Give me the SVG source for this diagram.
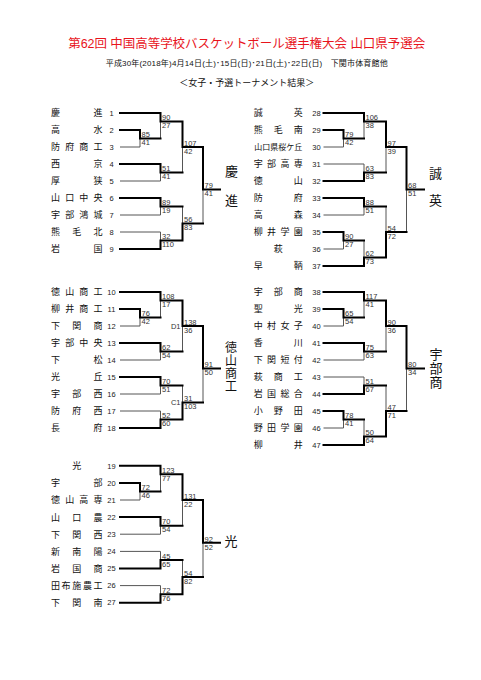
<svg xmlns="http://www.w3.org/2000/svg" width="481" height="680" viewBox="0 0 481 680">
<style>
text{font-family:"Liberation Sans","Noto Sans CJK JP",sans-serif;}
.nm{font-size:9px;fill:#111;text-anchor:middle;}
.nm6{font-size:8px;fill:#111;text-anchor:middle;}
.no{font-size:7.5px;fill:#222;text-anchor:middle;}
.sc{font-size:7.5px;fill:#333;}
.lb{font-size:7.5px;fill:#333;text-anchor:end;}
.win{font-size:13px;fill:#111;text-anchor:middle;}
.win4{font-size:12px;fill:#111;text-anchor:middle;}
.k{fill:none;stroke:#000;stroke-width:2;stroke-linecap:square;stroke-linejoin:miter;}
.t{fill:none;stroke:#555;stroke-width:1;}
</style>
<rect width="481" height="680" fill="#fff"/>
<g id="header">
<text x="246.7" y="48" font-size="12.5" fill="#e8141c" text-anchor="middle" textLength="357" lengthAdjust="spacing">第62回 中国高等学校バスケットボール選手権大会 山口県予選会</text>
<text x="246.7" y="65.6" font-size="8" fill="#111" text-anchor="middle" textLength="282" lengthAdjust="spacing">平成30年(2018年)4月14日(土)･15日(日)･21日(土)･22日(日)　下関市体育館他</text>
<text x="246.7" y="86" font-size="9" fill="#111" text-anchor="middle">＜女子・予選トーナメント結果＞</text>
</g>
<g id="connectors">
<g id="block1">
<path class="t" d="M120 147H140V138.5M160.5 121.5V138.5M120 181H160.5V172.5M182.5 147V172.5M120 215H160.5V206.5M120 232H160.5V240.5M182.5 206.5V223.5M203 189.5V223.5"/>
<path class="k" d="M120 130H140V138.5H160.5M120 113H160.5V121.5H182.5M120 164H160.5V172.5H182.5M182.5 121.5V147H203M120 198H160.5V206.5H182.5M120 249H160.5V240.5H182.5M182.5 240.5V223.5H203M203 147V189.5H220"/>
</g>
<g id="block2">
<path class="t" d="M120 326H140V317.5M160.5 300.5V317.5M120 360H160.5V351.5M182.5 326V351.5M120 394H160.5V385.5M120 411H160.5V419.5M182.5 385.5V402.5M203 368.5V402.5"/>
<path class="k" d="M120 309H140V317.5H160.5M120 292H160.5V300.5H182.5M120 343H160.5V351.5H182.5M182.5 300.5V326H203M120 377H160.5V385.5H182.5M120 428H160.5V419.5H182.5M182.5 419.5V402.5H203M203 326V368.5H220"/>
</g>
<g id="block3">
<path class="t" d="M120 500H140V491.45M160.5 474.35V491.45M120 534.2H160.5V525.65M182.5 500V525.65M120 551.4H160.5V559.95M120 585.6H160.5V594.15M182.5 559.95V577.05M203 542.8V577.05"/>
<path class="k" d="M120 482.9H140V491.45H160.5M120 465.8H160.5V474.35H182.5M120 517.1H160.5V525.65H182.5M182.5 474.35V500H203M120 568.5H160.5V559.95H182.5M120 602.7H160.5V594.15H182.5M182.5 594.15V577.05H203M203 500V542.8H220"/>
</g>
<g id="block4">
<path class="t" d="M323.5 147H343.5V138.5M364 121.5V138.5M323.5 164H364V172.5M386 147V172.5M323.5 215H364V206.5M323.5 249H343.5V240.5M364 240.5V257.5M386 206.5V232M406.5 189.5V232"/>
<path class="k" d="M323.5 130H343.5V138.5H364M323.5 113H364V121.5H386M323.5 181H364V172.5H386M386 121.5V147H406.5M323.5 198H364V206.5H386M323.5 232H343.5V240.5H364M323.5 266H364V257.5H386M386 257.5V232H406.5M406.5 147V189.5H424"/>
</g>
<g id="block5">
<path class="t" d="M323.5 326H343.5V317.5M364 300.5V317.5M323.5 360H364V351.5M386 326V351.5M323.5 377H364V385.5M323.5 428H343.5V419.5M364 419.5V436.5M386 385.5V411M406.5 368.5V411"/>
<path class="k" d="M323.5 309H343.5V317.5H364M323.5 292H364V300.5H386M323.5 343H364V351.5H386M386 300.5V326H406.5M323.5 394H364V385.5H386M323.5 411H343.5V419.5H364M323.5 445H364V436.5H386M386 436.5V411H406.5M406.5 326V368.5H424"/>
</g>
<g id="scores">
<text class="sc" x="141.5" y="137.3">85</text><text class="sc" x="141.5" y="145.3">41</text>
<text class="sc" x="162" y="120.3">90</text><text class="sc" x="162" y="128.3">27</text>
<text class="sc" x="162" y="171.3">51</text><text class="sc" x="162" y="179.3">41</text>
<text class="sc" x="184" y="145.8">107</text><text class="sc" x="184" y="153.8">42</text>
<text class="sc" x="162" y="205.3">89</text><text class="sc" x="162" y="213.3">19</text>
<text class="sc" x="162" y="239.3">32</text><text class="sc" x="162" y="247.3">110</text>
<text class="sc" x="184" y="222.3">56</text><text class="sc" x="184" y="230.3">83</text>
<text class="sc" x="204.5" y="188.3">79</text><text class="sc" x="204.5" y="196.3">41</text>

<text class="sc" x="141.5" y="316.3">76</text><text class="sc" x="141.5" y="324.3">42</text>
<text class="sc" x="162" y="299.3">108</text><text class="sc" x="162" y="307.3">17</text>
<text class="sc" x="162" y="350.3">62</text><text class="sc" x="162" y="358.3">54</text>
<text class="sc" x="184" y="324.8">138</text><text class="sc" x="184" y="332.8">36</text>
<text class="lb" x="180.5" y="328.7">D1</text>
<text class="sc" x="162" y="384.3">70</text><text class="sc" x="162" y="392.3">51</text>
<text class="sc" x="162" y="418.3">52</text><text class="sc" x="162" y="426.3">60</text>
<text class="sc" x="184" y="401.3">31</text><text class="sc" x="184" y="409.3">103</text>
<text class="lb" x="180.5" y="405.2">C1</text>
<text class="sc" x="204.5" y="367.3">91</text><text class="sc" x="204.5" y="375.3">50</text>

<text class="sc" x="141.5" y="490.25">72</text><text class="sc" x="141.5" y="498.25">46</text>
<text class="sc" x="162" y="473.15">123</text><text class="sc" x="162" y="481.15">77</text>
<text class="sc" x="162" y="524.45">70</text><text class="sc" x="162" y="532.45">54</text>
<text class="sc" x="184" y="498.8">131</text><text class="sc" x="184" y="506.8">22</text>
<text class="sc" x="162" y="558.75">45</text><text class="sc" x="162" y="566.75">65</text>
<text class="sc" x="162" y="592.95">72</text><text class="sc" x="162" y="600.95">76</text>
<text class="sc" x="184" y="575.85">54</text><text class="sc" x="184" y="583.85">82</text>
<text class="sc" x="204.5" y="541.6">92</text><text class="sc" x="204.5" y="549.6">52</text>

<text class="sc" x="345" y="137.3">79</text><text class="sc" x="345" y="145.3">42</text>
<text class="sc" x="365.5" y="120.3">106</text><text class="sc" x="365.5" y="128.3">38</text>
<text class="sc" x="365.5" y="171.3">63</text><text class="sc" x="365.5" y="179.3">83</text>
<text class="sc" x="387.5" y="145.8">97</text><text class="sc" x="387.5" y="153.8">39</text>
<text class="sc" x="365.5" y="205.3">88</text><text class="sc" x="365.5" y="213.3">51</text>
<text class="sc" x="345" y="239.3">90</text><text class="sc" x="345" y="247.3">27</text>
<text class="sc" x="365.5" y="256.3">62</text><text class="sc" x="365.5" y="264.3">73</text>
<text class="sc" x="387.5" y="230.8">54</text><text class="sc" x="387.5" y="238.8">72</text>
<text class="sc" x="408" y="188.3">68</text><text class="sc" x="408" y="196.3">51</text>

<text class="sc" x="345" y="316.3">65</text><text class="sc" x="345" y="324.3">54</text>
<text class="sc" x="365.5" y="299.3">117</text><text class="sc" x="365.5" y="307.3">41</text>
<text class="sc" x="365.5" y="350.3">75</text><text class="sc" x="365.5" y="358.3">63</text>
<text class="sc" x="387.5" y="324.8">90</text><text class="sc" x="387.5" y="332.8">36</text>
<text class="sc" x="365.5" y="384.3">51</text><text class="sc" x="365.5" y="392.3">67</text>
<text class="sc" x="345" y="418.3">78</text><text class="sc" x="345" y="426.3">41</text>
<text class="sc" x="365.5" y="435.3">50</text><text class="sc" x="365.5" y="443.3">64</text>
<text class="sc" x="387.5" y="409.8">47</text><text class="sc" x="387.5" y="417.8">71</text>
<text class="sc" x="408" y="367.3">80</text><text class="sc" x="408" y="375.3">34</text>
</g>
</g>
<g id="teams">
<g id="t1"><text class="nm" x="55.5 98" y="116.4">慶進</text><text class="no" x="111.5" y="115.7">1</text></g>
<g id="t2"><text class="nm" x="55.5 98" y="133.4">高水</text><text class="no" x="111.5" y="132.7">2</text></g>
<g id="t3"><text class="nm" x="55.5 69.7 83.8 98" y="150.4">防府商工</text><text class="no" x="111.5" y="149.7">3</text></g>
<g id="t4"><text class="nm" x="55.5 98" y="167.4">西京</text><text class="no" x="111.5" y="166.7">4</text></g>
<g id="t5"><text class="nm" x="55.5 98" y="184.4">厚狭</text><text class="no" x="111.5" y="183.7">5</text></g>
<g id="t6"><text class="nm" x="55.5 69.7 83.8 98" y="201.4">山口中央</text><text class="no" x="111.5" y="200.7">6</text></g>
<g id="t7"><text class="nm" x="55.5 69.7 83.8 98" y="218.4">宇部鴻城</text><text class="no" x="111.5" y="217.7">7</text></g>
<g id="t8"><text class="nm" x="55.5 76.75 98" y="235.4">熊毛北</text><text class="no" x="111.5" y="234.7">8</text></g>
<g id="t9"><text class="nm" x="55.5 98" y="252.4">岩国</text><text class="no" x="111.5" y="251.7">9</text></g>

<g id="t10"><text class="nm" x="55.5 69.7 83.8 98" y="295.4">徳山商工</text><text class="no" x="111.5" y="294.7">10</text></g>
<g id="t11"><text class="nm" x="55.5 69.7 83.8 98" y="312.4">柳井商工</text><text class="no" x="111.5" y="311.7">11</text></g>
<g id="t12"><text class="nm" x="55.5 76.75 98" y="329.4">下関商</text><text class="no" x="111.5" y="328.7">12</text></g>
<g id="t13"><text class="nm" x="55.5 69.7 83.8 98" y="346.4">宇部中央</text><text class="no" x="111.5" y="345.7">13</text></g>
<g id="t14"><text class="nm" x="55.5 98" y="363.4">下松</text><text class="no" x="111.5" y="362.7">14</text></g>
<g id="t15"><text class="nm" x="55.5 98" y="380.4">光丘</text><text class="no" x="111.5" y="379.7">15</text></g>
<g id="t16"><text class="nm" x="55.5 76.75 98" y="397.4">宇部西</text><text class="no" x="111.5" y="396.7">16</text></g>
<g id="t17"><text class="nm" x="55.5 76.75 98" y="414.4">防府西</text><text class="no" x="111.5" y="413.7">17</text></g>
<g id="t18"><text class="nm" x="55.5 98" y="431.4">長府</text><text class="no" x="111.5" y="430.7">18</text></g>

<g id="t19"><text class="nm" x="76.75" y="469.2">光</text><text class="no" x="111.5" y="468.5">19</text></g>
<g id="t20"><text class="nm" x="55.5 98" y="486.3">宇部</text><text class="no" x="111.5" y="485.6">20</text></g>
<g id="t21"><text class="nm" x="55.5 69.7 83.8 98" y="503.4">徳山高専</text><text class="no" x="111.5" y="502.7">21</text></g>
<g id="t22"><text class="nm" x="55.5 76.75 98" y="520.5">山口農</text><text class="no" x="111.5" y="519.8">22</text></g>
<g id="t23"><text class="nm" x="55.5 76.75 98" y="537.6">下関西</text><text class="no" x="111.5" y="536.9">23</text></g>
<g id="t24"><text class="nm" x="55.5 76.75 98" y="554.8">新南陽</text><text class="no" x="111.5" y="554.1">24</text></g>
<g id="t25"><text class="nm" x="55.5 76.75 98" y="571.9">岩国商</text><text class="no" x="111.5" y="571.2">25</text></g>
<g id="t26"><text class="nm" x="55.5 66.1 76.75 87.4 98" y="589">田布施農工</text><text class="no" x="111.5" y="588.3">26</text></g>
<g id="t27"><text class="nm" x="55.5 76.75 98" y="606.1">下関南</text><text class="no" x="111.5" y="605.4">27</text></g>

<g id="t28"><text class="nm" x="258.3 298.3" y="116.4">誠英</text><text class="no" x="316.5" y="115.7">28</text></g>
<g id="t29"><text class="nm" x="258.3 278.3 298.3" y="133.4">熊毛南</text><text class="no" x="316.5" y="132.7">29</text></g>
<g id="t30"><text class="nm6" x="258.3 266.3 274.3 282.3 290.3 298.3" y="150.1">山口県桜ケ丘</text><text class="no" x="316.5" y="149.7">30</text></g>
<g id="t31"><text class="nm" x="258.3 271.6 285 298.3" y="167.4">宇部高専</text><text class="no" x="316.5" y="166.7">31</text></g>
<g id="t32"><text class="nm" x="258.3 298.3" y="184.4">徳山</text><text class="no" x="316.5" y="183.7">32</text></g>
<g id="t33"><text class="nm" x="258.3 298.3" y="201.4">防府</text><text class="no" x="316.5" y="200.7">33</text></g>
<g id="t34"><text class="nm" x="258.3 298.3" y="218.4">高森</text><text class="no" x="316.5" y="217.7">34</text></g>
<g id="t35"><text class="nm" x="258.3 271.6 285 298.3" y="235.4">柳井学園</text><text class="no" x="316.5" y="234.7">35</text></g>
<g id="t36"><text class="nm" x="278.3" y="252.4">萩</text><text class="no" x="316.5" y="251.7">36</text></g>
<g id="t37"><text class="nm" x="258.3 298.3" y="269.4">早鞆</text><text class="no" x="316.5" y="268.7">37</text></g>

<g id="t38"><text class="nm" x="258.3 278.3 298.3" y="295.4">宇部商</text><text class="no" x="316.5" y="294.7">38</text></g>
<g id="t39"><text class="nm" x="258.3 298.3" y="312.4">聖光</text><text class="no" x="316.5" y="311.7">39</text></g>
<g id="t40"><text class="nm" x="258.3 271.6 285 298.3" y="329.4">中村女子</text><text class="no" x="316.5" y="328.7">40</text></g>
<g id="t41"><text class="nm" x="258.3 298.3" y="346.4">香川</text><text class="no" x="316.5" y="345.7">41</text></g>
<g id="t42"><text class="nm" x="258.3 271.6 285 298.3" y="363.4">下関短付</text><text class="no" x="316.5" y="362.7">42</text></g>
<g id="t43"><text class="nm" x="258.3 278.3 298.3" y="380.4">萩商工</text><text class="no" x="316.5" y="379.7">43</text></g>
<g id="t44"><text class="nm" x="258.3 271.6 285 298.3" y="397.4">岩国総合</text><text class="no" x="316.5" y="396.7">44</text></g>
<g id="t45"><text class="nm" x="258.3 278.3 298.3" y="414.4">小野田</text><text class="no" x="316.5" y="413.7">45</text></g>
<g id="t46"><text class="nm" x="258.3 271.6 285 298.3" y="431.4">野田学園</text><text class="no" x="316.5" y="430.7">46</text></g>
<g id="t47"><text class="nm" x="258.3 298.3" y="448.4">柳井</text><text class="no" x="316.5" y="447.7">47</text></g>
</g>
<g id="winners">
<g id="w1"><text class="win" x="231.5" y="176">慶</text><text class="win" x="231.5" y="205">進</text></g>
<g id="w2"><text class="win4" x="231" y="351.5">徳</text><text class="win4" x="231" y="364.5">山</text><text class="win4" x="231" y="377.5">商</text><text class="win4" x="231" y="390.5">工</text></g>
<g id="w3"><text class="win" x="231" y="546">光</text></g>
<g id="w4"><text class="win" x="435.5" y="177.6">誠</text><text class="win" x="435.5" y="205">英</text></g>
<g id="w5"><text class="win" x="436" y="359">宇</text><text class="win" x="436" y="373">部</text><text class="win" x="436" y="387">商</text></g>
</g>
</svg>
